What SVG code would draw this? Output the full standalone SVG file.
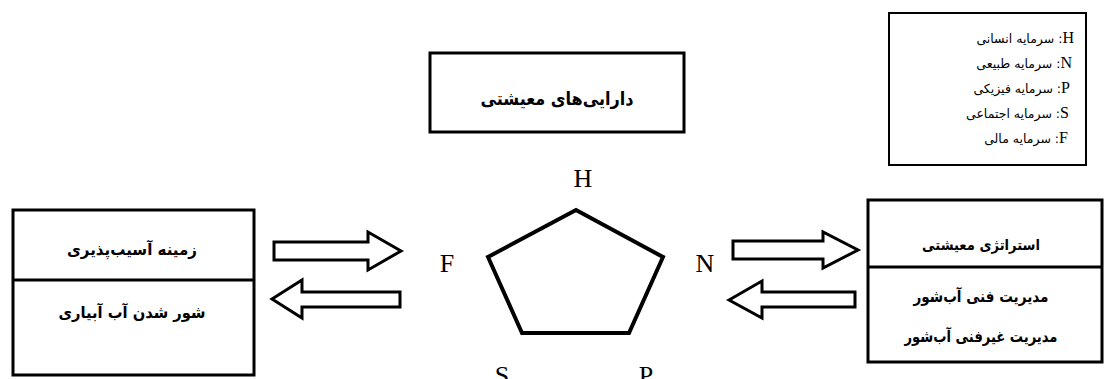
<svg xmlns="http://www.w3.org/2000/svg" width="1104" height="379" viewBox="0 0 1104 379">
<style>
.box{fill:#fff;stroke:#000;stroke-width:3}
.thin{fill:#fff;stroke:#000;stroke-width:2}
.line{stroke:#000;stroke-width:3}
.arrow{fill:#fff;stroke:#000;stroke-width:3;stroke-linejoin:miter}
.fa{font-family:"DejaVu Sans",sans-serif;font-weight:bold;fill:#000;direction:rtl}
.leg{font-family:"DejaVu Sans",sans-serif;font-size:12.5px;fill:#000;direction:rtl}
.lat{font-family:"Liberation Serif",serif;fill:#000}
.big{font-family:"Liberation Serif",serif;font-size:26px;fill:#000}
</style>
<rect width="1104" height="379" fill="#fff"/>

<g id="legend">
<rect class="thin" x="889" y="13" width="197" height="152"/>
<text class="leg" x="1074" y="43" direction="rtl" text-anchor="start"><tspan class="lat" font-size="16">H</tspan>: سرمایه انسانی</text>
<text class="leg" x="1072" y="68" direction="rtl" text-anchor="start"><tspan class="lat" font-size="16">N</tspan>: سرمایه طبیعی</text>
<text class="leg" x="1070" y="93" direction="rtl" text-anchor="start"><tspan class="lat" font-size="16">P</tspan>: سرمایه فیزیکی</text>
<text class="leg" x="1069" y="118" direction="rtl" text-anchor="start"><tspan class="lat" font-size="16">S</tspan>: سرمایه اجتماعی</text>
<text class="leg" x="1068" y="143" direction="rtl" text-anchor="start"><tspan class="lat" font-size="16">F</tspan>: سرمایه مالی</text>
</g>

<g id="title">
<rect class="box" x="430" y="53" width="254" height="79"/>
<text class="fa" x="557" y="105" font-size="18" text-anchor="middle" direction="rtl" textLength="153" lengthAdjust="spacingAndGlyphs">دارایی‌های معیشتی</text>
</g>

<g id="vulnerability">
<rect class="box" x="13" y="210" width="241" height="165"/>
<line class="line" x1="13" y1="280" x2="254" y2="280"/>
<text class="fa" x="132" y="255" font-size="16" text-anchor="middle" direction="rtl" textLength="130" lengthAdjust="spacingAndGlyphs">زمینه آسیب‌پذیری</text>
<text class="fa" x="132" y="318" font-size="16" text-anchor="middle" direction="rtl" textLength="147" lengthAdjust="spacingAndGlyphs">شور شدن آب آبیاری</text>
</g>

<g id="strategy">
<rect class="box" x="868" y="200" width="234" height="162"/>
<line class="line" x1="868" y1="267" x2="1102" y2="267"/>
<text class="fa" x="981" y="250" font-size="15" text-anchor="middle" direction="rtl" textLength="118" lengthAdjust="spacingAndGlyphs">استراتژی معیشتی</text>
<text class="fa" x="981" y="302" font-size="16" text-anchor="middle" direction="rtl" textLength="135" lengthAdjust="spacingAndGlyphs">مدیریت فنی آب‌شور</text>
<text class="fa" x="981" y="342" font-size="16" text-anchor="middle" direction="rtl" textLength="153" lengthAdjust="spacingAndGlyphs">مدیریت غیرفنی آب‌شور</text>
</g>

<g id="pentagon">
<polygon points="576,210 663,257 629,333 522,333 488,257" fill="none" stroke="#000" stroke-width="4" stroke-linejoin="miter"/>
<text class="big" x="583" y="187" text-anchor="middle">H</text>
<text class="big" x="447" y="272" text-anchor="middle">F</text>
<text class="big" x="705" y="272" text-anchor="middle">N</text>
<text class="big" x="502" y="384" text-anchor="middle">S</text>
<text class="big" x="646" y="384" text-anchor="middle">P</text>
</g>

<g id="connectors">
<polygon class="arrow" points="274,242 368,242 368,232 401,251 368,270 368,260 274,260"/>
<polygon class="arrow" points="272,299 302,280 302,292 400,292 400,307 302,307 302,318"/>
<polygon class="arrow" points="733,241 823,241 823,232 858,250 823,268 823,259 733,259"/>
<polygon class="arrow" points="729,300 762,281 762,292 855,292 855,307 762,307 762,318"/>
</g>
</svg>
